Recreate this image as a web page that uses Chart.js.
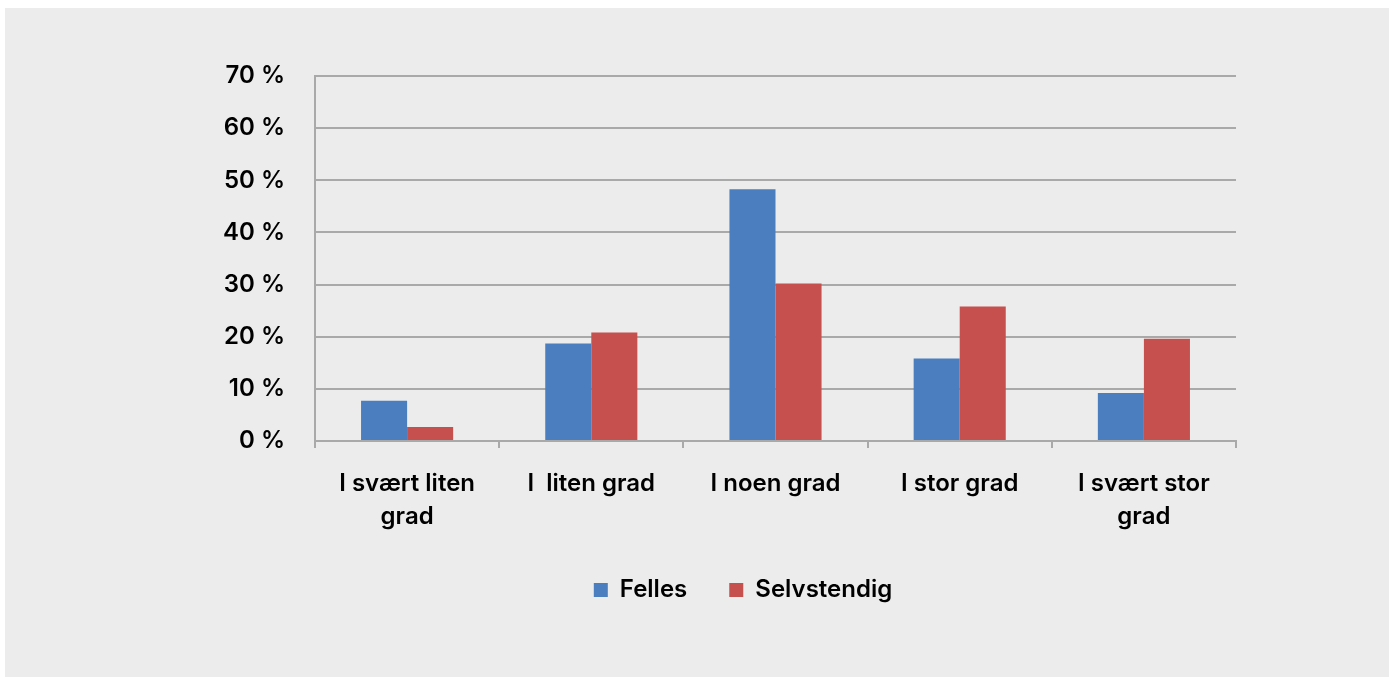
<!DOCTYPE html>
<html>
<head>
<meta charset="utf-8">
<script src="https://cdn.jsdelivr.net/npm/chart.js@4"></script>
<style>
    html, body { margin: 0; padding: 0; background: #ffffff; }
    #panel {
        position: absolute;
        left: 5px; top: 8px;
        width: 1384px; height: 669px;
        background: #ececec;
    }
    #chart { display: block; }
</style>
</head>
<body>
<div id="panel"><canvas id="chart" width="1384" height="669"></canvas></div>
<script>
// ========================================
// DATA
// ========================================
const categories = [
    ['I svært liten', 'grad'],
    'I  liten grad',
    'I noen grad',
    'I stor grad',
    ['I svært stor', 'grad']
];
const seriesNames = ['Felles', 'Selvstendig'];
const fellesValues = [7.7, 18.7, 48.3, 15.8, 9.2];
const selvstendigValues = [2.7, 20.8, 30.2, 25.8, 19.6];
const yTicks = [0, 10, 20, 30, 40, 50, 60, 70];

const gridColor = '#a9a9a9';

Chart.defaults.font.family = 'Inter, "Noto Sans", sans-serif';
Chart.defaults.font.size = 24;
Chart.defaults.font.weight = '600';
Chart.defaults.color = '#000000';

const ctx = document.getElementById('chart');

new Chart(ctx, {
    type: 'bar',
    data: {
        labels: categories,
        datasets: [{
            label: seriesNames[0],
            data: fellesValues,
            backgroundColor: '#4a7ebf'
        }, {
            label: seriesNames[1],
            data: selvstendigValues,
            backgroundColor: '#c5504d'
        }]
    },
    options: {
        responsive: false,
        animation: false,
        categoryPercentage: 0.5,
        barPercentage: 1.0,
        layout: { padding: { left: 215, right: 123, top: 68, bottom: 65 } },
        plugins: {
            tooltip: { enabled: false },
            legend: {
                position: 'bottom',
                labels: {
                    boxWidth: 14,
                    boxHeight: 14,
                    padding: 42,
                    font: { size: 24, weight: '600' }
                }
            }
        },
        scales: {
            x: {
                afterFit: (scale) => { scale.height = 95; },
                grid: {
                    display: true,
                    drawOnChartArea: false,
                    drawTicks: true,
                    tickLength: 7,
                    color: gridColor,
                    lineWidth: 2
                },
                border: { display: true, color: gridColor, width: 2 },
                ticks: {
                    padding: 20,
                    font: { size: 24, weight: '600', lineHeight: 1.35 }
                }
            },
            y: {
                z: 1,
                min: yTicks[0],
                max: yTicks[yTicks.length - 1],
                afterFit: (scale) => { scale.width = 95; },
                afterBuildTicks: (scale) => {
                    scale.ticks = yTicks.map(v => ({ value: v }));
                },
                grid: {
                    color: gridColor,
                    lineWidth: 2,
                    drawTicks: false
                },
                border: { display: true, color: gridColor, width: 2 },
                ticks: {
                    padding: 30,
                    callback: (v) => v + ' %'
                }
            },
            // empty spacer on the right so the legend sits where it does in the original
            spacer: {
                type: 'linear',
                position: 'right',
                afterFit: (scale) => { scale.width = 30; },
                grid: { display: false },
                border: { display: false },
                ticks: { display: false }
            }
        }
    }
});
</script>
</body>
</html>
